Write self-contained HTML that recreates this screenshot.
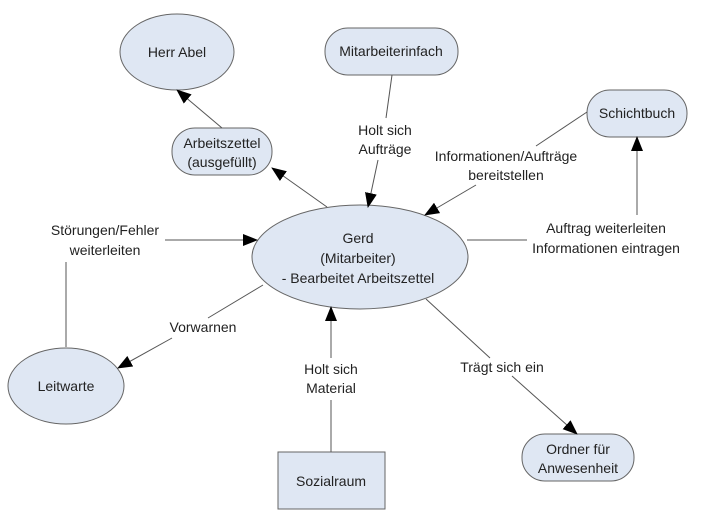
<!DOCTYPE html>
<html><head><meta charset="utf-8"><style>
html,body{margin:0;padding:0;background:#fff;}
svg{display:block;}
text{font-family:"Liberation Sans",sans-serif;font-size:14px;fill:#222;text-anchor:middle;}
.s{fill:#dfe7f3;stroke:#666;stroke-width:1;}
.l{stroke:#555;stroke-width:1;fill:none;}
</style></head><body>
<svg width="701" height="520" viewBox="0 0 701 520">
<defs><marker id="a" markerWidth="15" markerHeight="12" refX="14" refY="6" orient="auto" markerUnits="userSpaceOnUse"><path d="M0,0 L15,6 L0,12 z" fill="#000"/></marker></defs>
<ellipse class="s" cx="177" cy="52" rx="57" ry="38"/>
<text x="177" y="57">Herr Abel</text>
<rect class="s" x="172" y="128" width="100" height="47" rx="23"/>
<text x="222" y="148">Arbeitszettel</text><text x="222" y="167">(ausgefüllt)</text>
<rect class="s" x="325" y="28" width="133" height="47" rx="23"/>
<text x="391" y="56">Mitarbeiterinfach</text>
<rect class="s" x="587" y="90" width="100" height="47" rx="23"/>
<text x="637" y="118">Schichtbuch</text>
<ellipse class="s" cx="360" cy="257" rx="108" ry="52"/>
<text x="358" y="243">Gerd</text><text x="358" y="263">(Mitarbeiter)</text><text x="358" y="283">- Bearbeitet Arbeitszettel</text>
<ellipse class="s" cx="66" cy="386" rx="58" ry="38"/>
<text x="66" y="391">Leitwarte</text>
<rect class="s" x="278" y="452" width="107" height="57"/>
<text x="331" y="486">Sozialraum</text>
<rect class="s" x="522" y="434" width="112" height="47" rx="23"/>
<text x="578" y="454">Ordner für</text><text x="578" y="473">Anwesenheit</text>

<line class="l" x1="327" y1="207" x2="272" y2="168" marker-end="url(#a)"/>
<line class="l" x1="222" y1="128" x2="177" y2="90" marker-end="url(#a)"/>
<line class="l" x1="392" y1="75" x2="386" y2="118"/>
<line class="l" x1="378" y1="160" x2="368" y2="207" marker-end="url(#a)"/>
<text x="385" y="135">Holt sich</text><text x="385" y="154">Aufträge</text>
<line class="l" x1="587" y1="112" x2="536" y2="146"/>
<line class="l" x1="476" y1="185" x2="425" y2="215" marker-end="url(#a)"/>
<text x="506" y="161">Informationen/Aufträge</text><text x="506" y="180">bereitstellen</text>
<line class="l" x1="467" y1="240" x2="527" y2="240"/>
<line class="l" x1="637" y1="215" x2="637" y2="137" marker-end="url(#a)"/>
<text x="606" y="233">Auftrag weiterleiten</text><text x="606" y="253">Informationen eintragen</text>
<line class="l" x1="66" y1="347" x2="66" y2="262"/>
<line class="l" x1="165" y1="240" x2="257" y2="240" marker-end="url(#a)"/>
<text x="105" y="235">Störungen/Fehler</text><text x="105" y="255">weiterleiten</text>
<line class="l" x1="263" y1="285" x2="208" y2="318"/>
<line class="l" x1="172" y1="338" x2="118" y2="368" marker-end="url(#a)"/>
<text x="203" y="332">Vorwarnen</text>
<line class="l" x1="331" y1="452" x2="331" y2="400"/>
<line class="l" x1="331" y1="358" x2="331" y2="307" marker-end="url(#a)"/>
<text x="331" y="374">Holt sich</text><text x="331" y="393">Material</text>
<line class="l" x1="426" y1="299" x2="490" y2="358"/>
<line class="l" x1="512" y1="376" x2="577" y2="434" marker-end="url(#a)"/>
<text x="502" y="372">Trägt sich ein</text>
</svg>
</body></html>
